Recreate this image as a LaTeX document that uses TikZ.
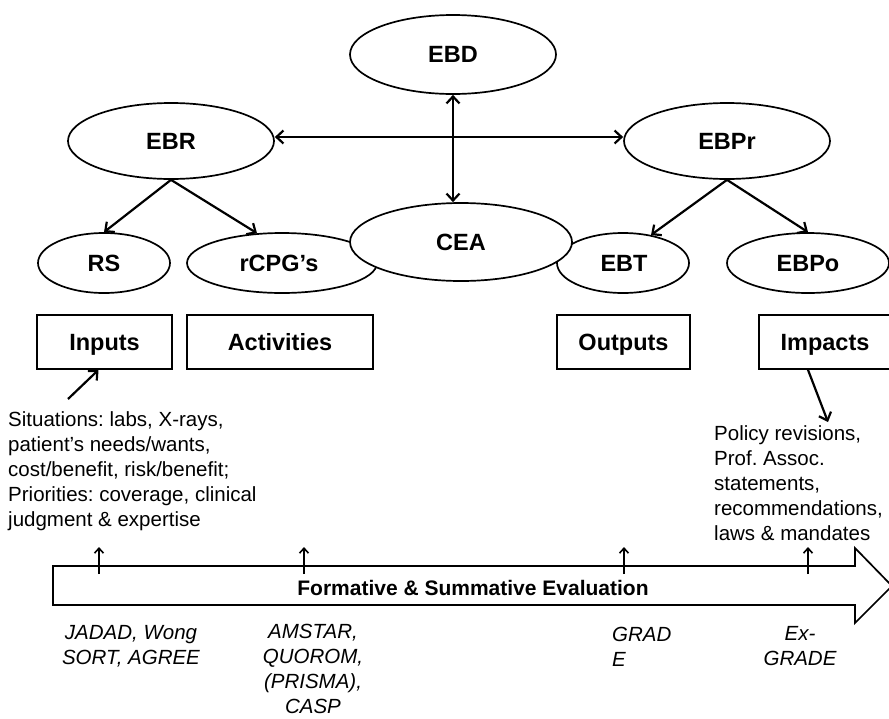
\documentclass[tikz,border=0pt]{standalone}
\usepackage{fontspec}
\setmainfont{Liberation Sans}
\usetikzlibrary{arrows.meta,shapes.geometric}
\frenchspacing

\begin{document}
\begin{tikzpicture}[x=1pt,y=-1pt,
  boldlabel/.style={font=\fontsize{23.5}{28}\selectfont\bfseries, text height=16.8pt, text depth=0pt},
  oval/.style={ellipse, draw, line width=1.7pt, fill=white, inner sep=0pt, boldlabel},
  stagebox/.style={rectangle, draw, line width=1.7pt, fill=white, inner sep=0pt,
    minimum height=54pt, boldlabel},
  link/.style={line width=2.2pt, -{Straight Barb[length=7pt,width=13pt,line width=2.2pt]}},
  biglink/.style={line width=2.2pt, {Straight Barb[length=7pt,width=13pt,line width=2.2pt]}-{Straight Barb[length=7pt,width=13pt,line width=2.2pt]}},
  tick/.style={line width=1.6pt, -{Straight Barb[length=5pt,width=9pt,line width=1.6pt]}},
  note/.style={inner sep=0pt, font=\fontsize{20.5}{25}\selectfont},
  tool/.style={inner sep=0pt, align=center, font=\fontsize{20.5}{25}\selectfont\itshape},
]
\useasboundingbox (0,0) rectangle (889,718);
\clip (0,0) rectangle (889,718);

% top level ellipses
\node[oval, minimum width=206pt, minimum height=79pt] (EBD)  at (453,54.5) {EBD};
\node[oval, minimum width=206pt, minimum height=76pt] (EBR)  at (171,141) {EBR};
\node[oval, minimum width=206pt, minimum height=76pt] (EBPr) at (727,141) {EBPr};

% second level ellipses
\node[oval, minimum width=132pt, minimum height=60pt] (RS)   at (104,263) {RS};
\node[oval, minimum width=190pt, minimum height=60pt] (rCPG) at (282,263) {};
\node[oval, minimum width=132pt, minimum height=60pt] (EBT)  at (623,263) {};
\node[oval, minimum width=162pt, minimum height=60pt] (EBPo) at (808,263) {EBPo};
% labels placed separately so the overlapping centre oval does not hide them
\node[boldlabel, inner sep=0pt] (rCPGlabel) at (279,263) {rCPG’s};
\node[boldlabel, inner sep=0pt] (EBTlabel) at (624,263) {EBT};
\node[oval, minimum width=222pt, minimum height=78pt] (CEA)  at (461,242) {CEA};

% stage boxes
\node[stagebox, minimum width=135pt] (Inputs)     at (104.5,342) {Inputs};
\node[stagebox, minimum width=186pt] (Activities) at (280,342)   {Activities};
\node[stagebox, minimum width=133pt] (Outputs)    at (623.5,342) {Outputs};
\node[stagebox, minimum width=132pt] (Impacts)    at (825,342)   {Impacts};

% connectors between ellipses
\draw[biglink] ([yshift=4pt]EBR.east) -- ([yshift=4pt]EBPr.west);
\draw[biglink] (EBD.south) -- (EBD.south |- CEA.north);
\draw[link] (EBR.south) -- (RS.north);
\draw[link] (EBR.south) -- (rCPG.130);
\draw[link] (EBPr.south) -- (EBT.45);
\draw[link] (EBPr.south) -- (EBPo.north);

% description texts
\node[note, anchor=west, align=left] (situ) at (8,471)
  {Situations: labs, X-rays,\\ patient’s needs/wants,\\ cost/benefit, risk/benefit;\\ Priorities: coverage, clinical\\ judgment \& expertise};
\node[note, anchor=west, align=left] (policy) at (714,483.5)
  {Policy revisions,\\ Prof. Assoc.\\ statements,\\ recommendations,\\ laws \& mandates};

\coordinate (situTail) at (68,399);
\coordinate (policyHead) at (828,422);
\draw[link] (situTail) -- ([xshift=-6pt]Inputs.south);
\draw[link] ([xshift=-17pt]Impacts.south) -- (policyHead);

% evaluation arrow
\draw[line width=1.7pt, fill=white]
  (53,566) -- (855,566) -- (855,548) -- (892,586) -- (855,623) -- (855,605) -- (53,605) -- cycle;
\node[inner sep=0pt, font=\fontsize{21}{25}\selectfont\bfseries] (evalLabel) at (473,588)
  {Formative \& Summative Evaluation};

% ticks rising from the evaluation arrow
\foreach \n/\x in {t1/99, t2/304, t3/624, t4/808} {
  \coordinate (\n a) at (\x,574);
  \coordinate (\n b) at (\x,547);
  \draw[tick] (\n a) -- (\n b);
}

% appraisal tools
\node[tool] (jadad)  at (131,646.5) {JADAD, Wong\\ SORT, AGREE};
\node[tool] (amstar) at (313,669)   {AMSTAR,\\ QUOROM,\\ (PRISMA),\\ CASP};
\node[tool, align=left, anchor=west] (grade) at (612,646.5) {GRAD\\ E};
\node[tool] (exgrade) at (800,646.5) {Ex-\\ GRADE};
\end{tikzpicture}
\end{document}
